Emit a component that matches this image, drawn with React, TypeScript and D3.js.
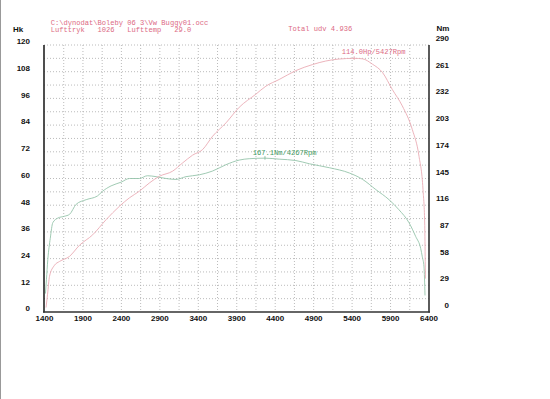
import React from "react";
import * as d3 from "d3";

const powerRpm = [1420, 1440, 1465, 1530, 1595, 1725, 1855, 2027, 2201, 2374, 2504, 2634, 2764, 2894, 3066, 3196, 3326, 3456, 3586, 3760, 3932, 4149, 4279, 4452, 4669, 4885, 5058, 5231, 5427, 5534, 5664, 5794, 5923, 6053, 6183, 6270, 6322, 6344, 6350, 6353];
const powerHk = [2, 8, 16, 21, 22.7, 25, 30, 34.7, 41.5, 47.5, 51.3, 54.3, 58, 61, 63.3, 67, 70.5, 73, 79, 85, 92, 97.9, 101.5, 104.5, 108.5, 111.2, 112.8, 113.7, 114.0, 113.8, 111.4, 107.7, 100, 92.6, 82, 70, 55, 40, 25, 15];

const torqueRpm = [1412, 1425, 1443, 1475, 1508, 1573, 1660, 1725, 1812, 1942, 2088, 2153, 2266, 2396, 2504, 2634, 2738, 2851, 2981, 3110, 3240, 3413, 3582, 3760, 3932, 4062, 4267, 4452, 4669, 4844, 5104, 5364, 5537, 5708, 5880, 6010, 6140, 6227, 6292, 6313, 6335, 6348];
const torqueNm = [20, 35, 57, 80, 97, 102, 104, 106, 117, 122, 126, 131, 137, 141, 145, 145, 148, 147, 145, 144, 147, 149, 153, 160, 165, 166.5, 167.1, 166, 164.5, 161, 156.7, 151, 144, 133, 122, 111, 97, 82, 69, 60, 49, 18];

const xTicks = [1400, 1900, 2400, 2900, 3400, 3900, 4400, 4900, 5400, 5900, 6400];
const hkTicks = [0, 12, 24, 36, 48, 60, 72, 84, 96, 108, 120];
const nmTicks = [0, 29, 58, 87, 116, 145, 174, 203, 232, 261, 290];

const headerLine1 = "C:\\dynodat\\Boleby 06 3\\Vw Buggy01.occ";
const headerLine2 = "Lufttryk   1026   Lufttemp   29.0";
const totalText = "Total udv 4.936";
const powerPeakText = "114.0Hp/5427Rpm";
const torquePeakText = "167.1Nm/4267Rpm";
const powerPeak = { rpm: 5427, value: 114.0 };
const torquePeak = { rpm: 4267, value: 167.1 };

export default function App() {
  const W = 550, H = 399;
  const x = d3.scaleLinear().domain([1400, 6400]).range([44.5, 429]);
  const yHk = d3.scaleLinear().domain([0, 120]).range([312, 45]);
  const yNm = d3.scaleLinear().domain([0, 290]).range([312, 45]);

  const vGrid = d3.range(1650, 6400, 250);
  const hGrid = d3.range(6, 121, 6);

  const powerLine = d3.line<number>()
    .x((_, i) => x(powerRpm[i]))
    .y((d) => yHk(d))
    .curve(d3.curveMonotoneX)(powerHk) as string;
  const torqueLine = d3.line<number>()
    .x((_, i) => x(torqueRpm[i]))
    .y((d) => yNm(d))
    .curve(d3.curveMonotoneX)(torqueNm) as string;

  const mono = "'Liberation Mono', 'DejaVu Sans Mono', monospace";
  const sans = "'Liberation Sans', Arial, sans-serif";
  const pink = "#dc6a84";
  const green = "#3f9a62";

  return (
    <svg width={W} height={H} style={{ position: "absolute", left: 0, top: 0, background: "#fff" }}>
      <rect x={0} y={0} width={W} height={H} fill="#fff" />
      <line x1={0.5} y1={0} x2={0.5} y2={H} stroke="#999" strokeWidth={1} />
      {vGrid.map((v) => (
        <line key={"v" + v} x1={x(v)} x2={x(v)} y1={45} y2={312} stroke="#aaa" strokeWidth={0.8} strokeDasharray="1,2" />
      ))}
      {hGrid.map((v) => (
        <line key={"h" + v} x1={44} x2={429} y1={yHk(v)} y2={yHk(v)} stroke="#aaa" strokeWidth={0.8} strokeDasharray="1,2" />
      ))}
      <line x1={44} x2={44} y1={45} y2={312.5} stroke="#222" strokeWidth={1.6} />
      <line x1={429} x2={429} y1={45} y2={312.5} stroke="#333" strokeWidth={1.6} />
      <line x1={43} x2={430} y1={312} y2={312} stroke="#333" strokeWidth={1.3} />
      <path d={torqueLine} fill="none" stroke="#95c4aa" strokeWidth={0.9} />
      <path d={powerLine} fill="none" stroke="#eaabb4" strokeWidth={0.9} />
      <line x1={x(powerPeak.rpm)} x2={x(powerPeak.rpm)} y1={yHk(powerPeak.value) - 2} y2={yHk(powerPeak.value) + 1.5} stroke="#e8a6b0" strokeWidth={1} />
      <line x1={x(torquePeak.rpm)} x2={x(torquePeak.rpm)} y1={yNm(torquePeak.value) - 2} y2={yNm(torquePeak.value) + 1.5} stroke="#8cbfa2" strokeWidth={1} />
      {xTicks.map((t) => (
        <text key={"x" + t} x={x(t)} y={320.5} textAnchor="middle" fontFamily={sans} fontWeight="bold" fontSize={8} fill="#111">{t}</text>
      ))}
      {hkTicks.map((t) => (
        <text key={"l" + t} x={30} y={yHk(t) - 0.7} textAnchor="end" fontFamily={sans} fontWeight="bold" fontSize={8} fill="#111">{t}</text>
      ))}
      {nmTicks.map((t) => (
        <text key={"r" + t} x={449} y={yNm(t) - 4} textAnchor="end" fontFamily={sans} fontWeight="bold" fontSize={8} fill="#111">{t}</text>
      ))}
      <text x={13} y={32} fontFamily={sans} fontWeight="bold" fontSize={8} fill="#111">Hk</text>
      <text x={436.5} y={31} fontFamily={sans} fontWeight="bold" fontSize={8} fill="#111">Nm</text>
      <text x={50.7} y={25.3} fontFamily={mono} fontSize={7.1} fill={pink} style={{ whiteSpace: "pre" }}>{headerLine1}</text>
      <text x={50.7} y={32.3} fontFamily={mono} fontSize={7.1} fill={pink} style={{ whiteSpace: "pre" }}>{headerLine2}</text>
      <text x={288.3} y={30.8} fontFamily={mono} fontSize={7.1} fill={pink} style={{ whiteSpace: "pre" }}>{totalText}</text>
      <text x={341.7} y={53.6} fontFamily={mono} fontSize={7.1} fill={pink}>{powerPeakText}</text>
      <text x={252.7} y={155.3} fontFamily={mono} fontSize={7.1} fill={green}>{torquePeakText}</text>
    </svg>
  );
}
